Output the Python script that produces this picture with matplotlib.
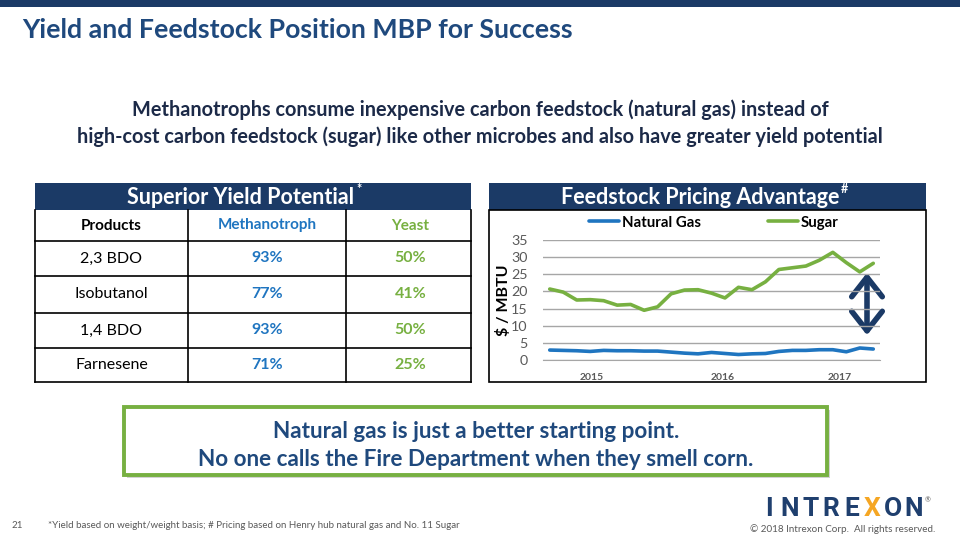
import numpy as np
import matplotlib.pyplot as plt
from matplotlib.patches import Rectangle, FancyArrowPatch

plt.rcParams['font.family'] = ['Lato', 'DejaVu Sans']

# chart data
sugar = [20.7, 19.8, 17.5, 17.6, 17.3, 16.0, 16.2, 14.5, 15.5, 19.3, 20.4, 20.5,
         19.5, 18.1, 21.2, 20.5, 22.8, 26.4, 26.9, 27.4, 29.1, 31.4, 28.4, 25.7, 28.2]
natgas = [2.9, 2.8, 2.7, 2.5, 2.8, 2.7, 2.7, 2.6, 2.6, 2.3, 2.0, 1.8,
          2.2, 1.9, 1.6, 1.8, 1.9, 2.5, 2.8, 2.8, 3.0, 3.0, 2.4, 3.5, 3.2]
year_pos = [3.1, 12.8, 21.5]
year_labels = ['2015', '2016', '2017']
yticks = [0, 5, 10, 15, 20, 25, 30, 35]

# table data
products = ['2,3 BDO', 'Isobutanol', '1,4 BDO', 'Farnesene']
methanotroph = ['93%', '77%', '93%', '71%']
yeast = ['50%', '41%', '50%', '25%']

NAVY = '#1b3a66'
TITLE = '#1f497d'
BLUE = '#1f75c0'
GREEN = '#77b041'
GRAY = '#595959'

fig = plt.figure(figsize=(9.6, 5.4), dpi=100)
bg = fig.add_axes([0, 0, 1, 1])
bg.set_xlim(0, 960)
bg.set_ylim(540, 0)
bg.axis('off')


def header(xc, label, mark):
    # white bold header text with a small superscript mark after it
    t = bg.text(xc, 197, label, fontsize=15.5, fontweight='bold', color='white',
                ha='center', va='center')
    bg.annotate(mark, xy=(1, 0.9), xycoords=t, xytext=(1, 0), textcoords='offset points',
                fontsize=9, fontweight='bold', color='white', ha='left', va='center')


# top bar + title
bg.add_patch(Rectangle((0, 0), 960, 7, color=NAVY, lw=0))
bg.text(22, 30, 'Yield and Feedstock Position MBP for Success', fontsize=19.3,
        fontweight='bold', color=TITLE, va='center', ha='left')

bg.text(480, 110, 'Methanotrophs consume inexpensive carbon feedstock (natural gas) instead of',
        fontsize=14.3, fontweight='bold', color='#1c2a48', ha='center', va='center')
bg.text(480, 137, 'high-cost carbon feedstock (sugar) like other microbes and also have greater yield potential',
        fontsize=14.3, fontweight='bold', color='#1c2a48', ha='center', va='center')

# ---- table ----
tx0, tx1 = 35, 471
bg.add_patch(Rectangle((tx0, 183), tx1 - tx0, 27, color=NAVY, lw=0))
header(241, 'Superior Yield Potential', '*')
rows = [210, 241, 276, 313, 348, 382]
cols = [tx0, 188, 346, tx1]
for y in rows[1:]:
    bg.plot([tx0, tx1], [y, y], color='black', lw=1.2)
for x in cols:
    bg.plot([x, x], [rows[0], rows[-1]], color='black', lw=1.2)
cx = [(cols[i] + cols[i + 1]) / 2 for i in range(3)]
hy = (rows[0] + rows[1]) / 2
bg.text(cx[0], hy, 'Products', fontsize=11, fontweight='bold', color='black', ha='center', va='center')
bg.text(cx[1], hy, 'Methanotroph', fontsize=11, fontweight='bold', color=BLUE, ha='center', va='center')
bg.text(cx[2] + 2, hy, 'Yeast', fontsize=11, fontweight='bold', color=GREEN, ha='center', va='center')
for i in range(len(products)):
    y = (rows[i + 1] + rows[i + 2]) / 2
    bg.text(cx[0], y, products[i], fontsize=11.5, color='black', ha='center', va='center')
    bg.text(cx[1], y, methanotroph[i], fontsize=11.5, fontweight='bold', color=BLUE, ha='center', va='center')
    bg.text(cx[2] + 2, y, yeast[i], fontsize=11.5, fontweight='bold', color=GREEN, ha='center', va='center')

# ---- chart panel ----
px0, px1 = 489, 926
bg.add_patch(Rectangle((px0, 183), px1 - px0, 27, color=NAVY, lw=0))
bg.add_patch(Rectangle((px0, 210), px1 - px0, 172, fill=False, ec='black', lw=1.2))
header(700, 'Feedstock Pricing Advantage', '#')

ax = fig.add_axes([543 / 960, 1 - 360 / 540, 337 / 960, 120 / 540])
x = np.arange(len(sugar))
ax.plot(x, natgas, color=BLUE, lw=2.6, label='Natural Gas', solid_capstyle='round')
ax.plot(x, sugar, color=GREEN, lw=2.6, label='Sugar', solid_capstyle='round')
ax.set_xlim(-0.5, len(sugar) - 0.5)
ax.set_ylim(0, 35)
ax.set_yticks(yticks)
ax.set_yticklabels([str(v) for v in yticks], fontsize=10.3, color=GRAY)
ax.set_xticks(year_pos)
ax.set_xticklabels(year_labels, fontsize=7.5, fontweight='bold', color=GRAY)
ax.tick_params(length=0)
ax.tick_params(axis='x', pad=9)
ax.tick_params(axis='y', pad=11)
ax.grid(axis='y', color='#a6a6a6', lw=1)
ax.set_axisbelow(True)
for s in ['top', 'right', 'left']:
    ax.spines[s].set_visible(False)
ax.spines['bottom'].set_color('#a6a6a6')
ax.set_facecolor('none')
ax.set_ylabel('$ / MBTU', fontsize=11.5, fontweight='bold', color='black', labelpad=0)
ax.legend(loc='center', bbox_to_anchor=(0.507, 1.145), ncol=2, frameon=False,
          columnspacing=4.5, handlelength=2.0, handletextpad=0.15,
          prop={'weight': 'bold', 'size': 10.8})

arrow = FancyArrowPatch((867, 270), (867, 338), arrowstyle='<->,head_length=7,head_width=5.5',
                        color=NAVY, lw=4, mutation_scale=2)
bg.add_patch(arrow)

# ---- callout box ----
bg.add_patch(Rectangle((127, 410), 703, 68, color='#bfbfbf', lw=0, alpha=0.7))
bg.add_patch(Rectangle((124, 407), 703, 68, fc='white', ec=GREEN, lw=2.8))
bg.text(476, 432, 'Natural gas is just a better starting point.', fontsize=16.2,
        fontweight='bold', color=TITLE, ha='center', va='center')
bg.text(476, 459, 'No one calls the Fire Department when they smell corn.', fontsize=16.2,
        fontweight='bold', color=TITLE, ha='center', va='center')

# ---- footer ----
bg.text(12, 526, '21', fontsize=7, color=GRAY, ha='left', va='center')
bg.text(48, 526, '*Yield based on weight/weight basis; # Pricing based on Henry hub natural gas and No. 11 Sugar',
        fontsize=7, color=GRAY, ha='left', va='center')
bg.text(935, 529, '\u00a9 2018 Intrexon Corp.  All rights reserved.', fontsize=7.1,
        color=GRAY, ha='right', va='center')
logo = 'INTREXON'
for i, ch in enumerate(logo):
    bg.text(769 + i * 20.6, 509, ch, fontsize=19, fontweight='bold', ha='center', va='center',
            color='#f5a623' if ch == 'X' else '#1f3f6e', family='Roboto')
bg.text(928, 500, '\u00ae', fontsize=5, color=GRAY, ha='center', va='center')

fig.savefig('out.png', dpi=100)
